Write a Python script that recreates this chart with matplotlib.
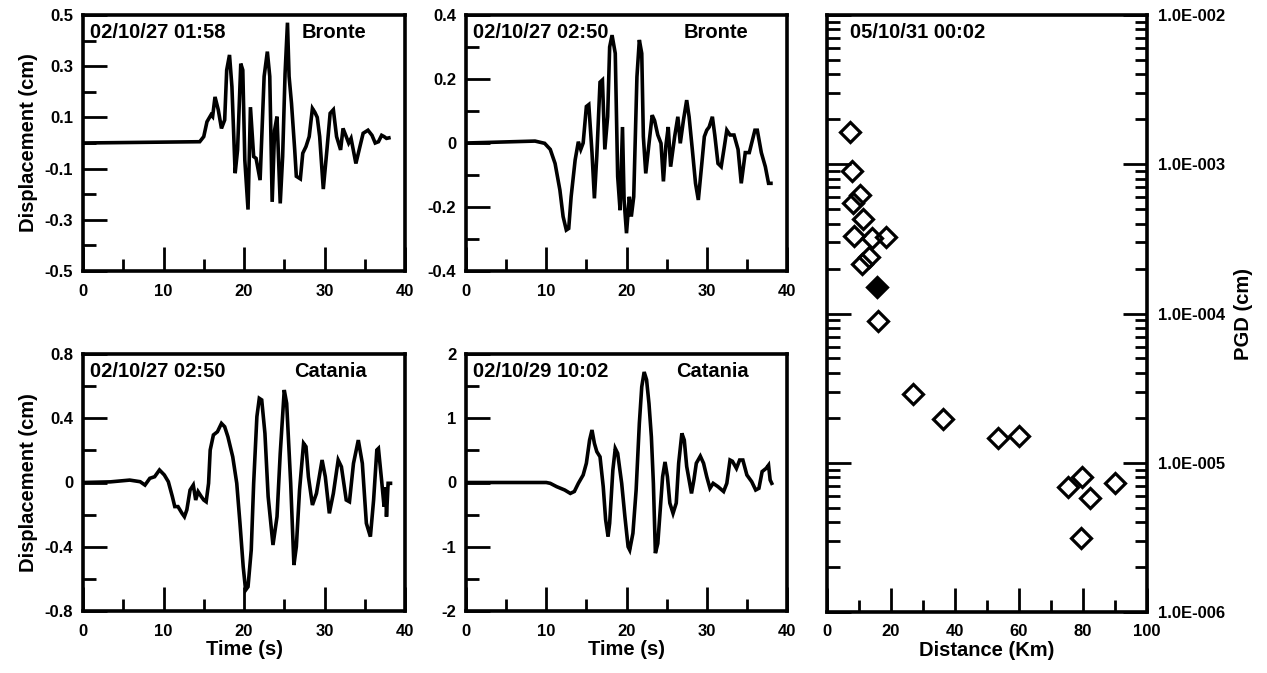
import matplotlib
matplotlib.use("Agg")
import matplotlib.pyplot as plt
from matplotlib.ticker import FixedLocator, NullFormatter

plt.rcParams['font.family'] = ['Liberation Sans', 'DejaVu Sans']
plt.rcParams['font.weight'] = 'bold'

# ---------------- data ----------------
# Panel A: Bronte 02/10/27 01:58
tA = [0, 14.5, 15.0, 15.4, 15.9, 16.1, 16.4, 16.8, 17.2, 17.6, 17.85, 18.2, 18.5, 18.9, 19.2,
      19.6, 19.85, 20.1, 20.5, 20.8, 21.2, 21.5, 22.0, 22.5, 22.9, 23.2, 23.5, 23.8, 24.1,
      24.5, 24.8, 25.1, 25.4, 25.6, 25.9, 26.3, 26.5, 27.0, 27.3, 27.7, 28.1, 28.5, 28.8,
      29.1, 29.4, 29.85, 30.3, 30.7, 31.1, 31.5, 32.0, 32.3, 32.7, 33.0, 33.3, 33.9, 34.4,
      34.8, 35.4, 35.9, 36.3, 36.7, 37.1, 37.4, 37.7, 38.0]
vA = [0.0, 0.005, 0.025, 0.083, 0.11, 0.103, 0.18, 0.13, 0.057, 0.09, 0.285, 0.344, 0.22,
      -0.118, -0.027, 0.31, 0.285, -0.066, -0.26, 0.14, -0.053, -0.06, -0.145, 0.26, 0.357,
      0.26, -0.23, 0.05, 0.103, -0.236, -0.053, 0.27, 0.47, 0.26, 0.155, -0.027, -0.13,
      -0.14, -0.04, -0.014, 0.025, 0.135, 0.12, 0.10, 0.025, -0.18, -0.027, 0.116, 0.13,
      0.025, -0.027, 0.057, 0.025, 0.0, 0.018, -0.08, -0.014, 0.038, 0.05, 0.03, 0.0,
      0.005, 0.03, 0.025, 0.018, 0.02]

# Panel B: Bronte 02/10/27 02:50
tB = [0, 3.0, 8.6, 9.8, 10.5, 11.1, 11.7, 12.1, 12.5, 12.8, 13.1, 13.6, 14.0, 14.3, 14.6,
      15.0, 15.3, 15.7, 16.0, 16.3, 16.7, 17.0, 17.3, 17.65, 17.9, 18.2, 18.6, 18.9, 19.2,
      19.5, 19.7, 20.0, 20.35, 20.6, 20.9, 21.3, 21.6, 21.9, 22.1, 22.4, 22.9, 23.2, 23.5,
      23.9, 24.3, 24.6, 24.9, 25.2, 25.5, 26.0, 26.4, 26.7, 27.1, 27.5, 27.8, 28.2, 28.6,
      28.95, 29.4, 29.7, 30.0, 30.3, 30.7, 31.0, 31.4, 31.8, 32.2, 32.5, 32.9, 33.4, 33.9,
      34.3, 34.8, 35.3, 35.6, 36.0, 36.3, 36.8, 37.3, 37.7, 38.0]
vB = [0.0, 0.002, 0.006, -0.001, -0.02, -0.064, -0.147, -0.23, -0.272, -0.267, -0.168,
      -0.053, 0.004, -0.02, 0.0, 0.114, 0.12, -0.03, -0.173, -0.04, 0.19, 0.197, -0.02,
      0.082, 0.30, 0.337, 0.28, -0.105, -0.21, 0.05, -0.178, -0.282, -0.168, -0.23, -0.168,
      0.207, 0.322, 0.28, 0.02, -0.095, 0.02, 0.087, 0.07, 0.025, -0.001, -0.12, -0.01,
      0.05, -0.074, 0.02, 0.082, -0.001, 0.072, 0.134, 0.082, -0.02, -0.126, -0.178, -0.06,
      0.02, 0.04, 0.05, 0.082, 0.025, -0.064, -0.074, -0.01, 0.04, 0.025, 0.025, -0.02,
      -0.126, -0.03, -0.03, 0.0, 0.04, 0.04, -0.03, -0.074, -0.126, -0.126]

# Panel C: Catania 02/10/27 02:50
tC = [0, 3.4, 5.8, 7.1, 7.7, 8.3, 8.9, 9.5, 10.1, 10.6, 11.1, 11.4, 11.8, 12.3, 12.6, 12.9,
      13.3, 13.7, 14.0, 14.3, 14.7, 15.0, 15.3, 15.6, 15.8, 16.2, 16.7, 17.2, 17.6, 18.0,
      18.6, 19.1, 19.5, 19.9, 20.2, 20.5, 20.9, 21.2, 21.6, 21.9, 22.2, 22.6, 23.0, 23.6,
      24.1, 24.5, 25.0, 25.3, 25.8, 26.2, 26.5, 26.9, 27.4, 27.7, 28.0, 28.5, 29.0, 29.7,
      30.1, 30.6, 31.1, 31.7, 32.1, 32.7, 33.1, 33.6, 34.2, 34.7, 35.2, 35.7, 36.1, 36.5,
      36.7, 37.1, 37.4, 37.6, 37.7, 37.9, 38.2]
vC = [0.0, 0.004, 0.015, 0.005, -0.016, 0.026, 0.036, 0.078, 0.047, 0.005, -0.088, -0.15,
      -0.15, -0.192, -0.213, -0.17, -0.047, -0.016, -0.109, -0.057, -0.088, -0.109, -0.12,
      -0.005, 0.202, 0.296, 0.316, 0.368, 0.347, 0.285, 0.16, -0.005, -0.254, -0.524,
      -0.67, -0.649, -0.42, -0.005, 0.41, 0.524, 0.514, 0.306, -0.088, -0.389, -0.213,
      0.181, 0.576, 0.493, -0.005, -0.514, -0.40, -0.047, 0.244, 0.223, 0.036, -0.14,
      -0.068, 0.14, 0.036, -0.192, -0.068, 0.14, 0.098, -0.109, -0.12, 0.119, 0.264, 0.119,
      -0.254, -0.337, -0.109, 0.202, 0.212, 0.01, -0.15, -0.03, -0.213, -0.005, -0.005]

# Panel D: Catania 02/10/29 10:02
tD = [0, 10.0, 10.5, 11.3, 12.3, 13.0, 13.5, 14.0, 14.6, 15.0, 15.4, 15.7, 16.0, 16.3,
      16.7, 17.1, 17.4, 17.7, 17.9, 18.3, 18.6, 18.9, 19.4, 19.8, 20.2, 20.4, 20.8, 21.2,
      21.6, 21.9, 22.2, 22.5, 22.8, 23.1, 23.35, 23.6, 23.9, 24.2, 24.5, 24.8, 25.1, 25.4,
      25.8, 26.2, 26.5, 26.9, 27.2, 27.5, 27.8, 28.1, 28.4, 28.7, 29.2, 29.6, 30.0, 30.4,
      30.8, 31.4, 32.1, 32.5, 32.9, 33.2, 33.7, 34.1, 34.5, 35.0, 35.6, 36.1, 36.5, 36.9,
      37.4, 37.7, 37.9, 38.1]
vD = [0.0, 0.0, -0.013, -0.065, -0.117, -0.17, -0.14, -0.013, 0.117, 0.30, 0.66, 0.817,
      0.61, 0.48, 0.40, -0.065, -0.58, -0.84, -0.635, 0.194, 0.53, 0.454, -0.013, -0.53,
      -1.0, -1.05, -0.79, -0.117, 0.92, 1.49, 1.72, 1.6, 1.23, 0.71, -0.013, -1.1, -0.95,
      -0.43, 0.09, 0.32, 0.09, -0.32, -0.48, -0.32, 0.30, 0.765, 0.66, 0.25, 0.04, -0.17,
      0.04, 0.30, 0.41, 0.30, 0.09, -0.09, -0.013, -0.065, -0.14, -0.013, 0.35, 0.33, 0.22,
      0.35, 0.35, 0.117, 0.013, -0.117, -0.09, 0.17, 0.22, 0.27, 0.04, -0.013]

# PGD vs distance (05/10/31 00:02)
dist_open = [7.2, 7.7, 10.3, 8.0, 11.4, 8.5, 14.0, 18.4, 13.2, 10.8, 16.0,
             26.8, 36.4, 53.3, 60.1, 75.4, 79.8, 82.2, 90.0, 79.3]
pgd_open = [1.64e-3, 9.0e-4, 6.2e-4, 5.5e-4, 4.3e-4, 3.3e-4, 3.2e-4, 3.24e-4, 2.4e-4,
            2.14e-4, 8.95e-5, 2.89e-5, 1.95e-5, 1.47e-5, 1.50e-5, 6.85e-6, 7.98e-6,
            5.83e-6, 7.28e-6, 3.12e-6]
dist_filled = [15.5]
pgd_filled = [1.5e-4]

panels = [
    dict(t=tA, v=vA, date="02/10/27 01:58", site="Bronte", ylim=(-0.5, 0.5),
         yticks=[-0.5, -0.3, -0.1, 0.1, 0.3, 0.5], ylabels=["-0.5", "-0.3", "-0.1", "0.1", "0.3", "0.5"],
         yminor=[-0.4, -0.2, 0.0, 0.2, 0.4]),
    dict(t=tB, v=vB, date="02/10/27 02:50", site="Bronte", ylim=(-0.4, 0.4),
         yticks=[-0.4, -0.2, 0.0, 0.2, 0.4], ylabels=["-0.4", "-0.2", "0", "0.2", "0.4"],
         yminor=[-0.3, -0.1, 0.1, 0.3]),
    dict(t=tC, v=vC, date="02/10/27 02:50", site="Catania", ylim=(-0.8, 0.8),
         yticks=[-0.8, -0.4, 0.0, 0.4, 0.8], ylabels=["-0.8", "-0.4", "0", "0.4", "0.8"],
         yminor=[-0.6, -0.2, 0.2, 0.6]),
    dict(t=tD, v=vD, date="02/10/29 10:02", site="Catania", ylim=(-2, 2),
         yticks=[-2, -1, 0, 1, 2], ylabels=["-2", "-1", "0", "1", "2"],
         yminor=[-1.5, -0.5, 0.5, 1.5]),
]
xtick_vals = [0, 10, 20, 30, 40]
xtick_minor = [5, 15, 25, 35]
dist_ticks = [0, 20, 40, 60, 80, 100]
dist_minor = [10, 30, 50, 70, 90]
log_ticks = [1e-6, 1e-5, 1e-4, 1e-3, 1e-2]
log_labels = ["1.0E-006", "1.0E-005", "1.0E-004", "1.0E-003", "1.0E-002"]

# ---------------- figure ----------------
W, H = 1267, 673
fig = plt.figure(figsize=(W / 100, H / 100), dpi=100)

def rect(l, r, t, b):
    return [l / W, 1 - b / H, (r - l) / W, (b - t) / H]

rects = [rect(83, 405, 15, 271), rect(466, 787, 15, 271),
         rect(83, 405, 354, 611), rect(466, 787, 354, 611)]

SPW = 2.6
TICKFS = 12
LABFS = 14.5
TXTFS = 14.5
MAJL, MINL, TW = 17, 9, 2.0

for i, (p, r) in enumerate(zip(panels, rects)):
    ax = fig.add_axes(r)
    ax.plot(p["t"], p["v"], color="black", lw=2.6, solid_joinstyle="miter")
    ax.set_xlim(0, 40)
    ax.set_ylim(*p["ylim"])
    for s in ax.spines.values():
        s.set_linewidth(SPW)
    ax.xaxis.set_major_locator(FixedLocator(xtick_vals))
    ax.xaxis.set_minor_locator(FixedLocator(xtick_minor))
    ax.yaxis.set_major_locator(FixedLocator(p["yticks"]))
    ax.set_yticklabels(p["ylabels"])
    ax.yaxis.set_minor_locator(FixedLocator(p["yminor"]))
    ax.tick_params(axis="both", which="both", direction="in", top=False, right=False,
                   width=TW, labelsize=TICKFS)
    ax.tick_params(axis="both", which="major", length=MAJL)
    ax.tick_params(axis="both", which="minor", length=MINL)
    ax.tick_params(axis="x", which="major", pad=9)
    ax.tick_params(axis="y", which="major", pad=7)
    for lab in ax.get_xticklabels() + ax.get_yticklabels():
        lab.set_fontweight("bold")
    ax.text(0.022, 0.93, p["date"], transform=ax.transAxes, fontsize=TXTFS,
            fontweight="bold", va="center", ha="left")
    ax.text(0.88, 0.93, p["site"], transform=ax.transAxes, fontsize=TXTFS,
            fontweight="bold", va="center", ha="right")
    if i in (0, 2):
        ax.set_ylabel("Displacement (cm)", fontsize=LABFS, fontweight="bold", labelpad=5)
    if i in (2, 3):
        ax.set_xlabel("Time (s)", fontsize=LABFS, fontweight="bold", labelpad=1)

# PGD panel
ax5 = fig.add_axes(rect(827, 1147, 15, 612))
ax5.plot(dist_open, pgd_open, linestyle="none", marker="D", markersize=10.5,
         markerfacecolor="none", markeredgecolor="black", markeredgewidth=2.3)
ax5.plot(dist_filled, pgd_filled, linestyle="none", marker="D", markersize=10.5,
         markerfacecolor="black", markeredgecolor="black", markeredgewidth=2.3)
ax5.set_yscale("log")
ax5.set_xlim(0, 100)
ax5.set_ylim(1e-6, 1e-2)
for s in ax5.spines.values():
    s.set_linewidth(SPW)
ax5.xaxis.set_major_locator(FixedLocator(dist_ticks))
ax5.xaxis.set_minor_locator(FixedLocator(dist_minor))
ax5.yaxis.set_major_locator(FixedLocator(log_ticks))
ax5.set_yticklabels(log_labels)
minor_log = [m * 10.0 ** e for e in range(-6, -2) for m in range(2, 10)]
ax5.yaxis.set_minor_locator(FixedLocator(minor_log))
ax5.yaxis.set_minor_formatter(NullFormatter())
ax5.tick_params(axis="both", which="both", direction="in", width=TW, labelsize=TICKFS)
ax5.tick_params(axis="x", which="major", length=MAJL, pad=9, top=False)
ax5.tick_params(axis="x", which="minor", length=MINL, top=False)
ax5.tick_params(axis="y", which="both", left=True, right=True, labelleft=False, labelright=True)
ax5.tick_params(axis="y", which="major", length=MAJL, pad=8)
ax5.tick_params(axis="y", which="minor", length=MINL)
for lab in ax5.get_xticklabels() + ax5.get_yticklabels():
    lab.set_fontweight("bold")
ax5.yaxis.set_label_position("right")
ax5.set_ylabel("PGD (cm)", fontsize=LABFS, fontweight="bold", labelpad=6)
ax5.set_xlabel("Distance (Km)", fontsize=LABFS, fontweight="bold", labelpad=1)
ax5.text(0.072, 0.97, "05/10/31 00:02", transform=ax5.transAxes, fontsize=TXTFS,
         fontweight="bold", va="center", ha="left")

fig.savefig("out.png", dpi=100)
